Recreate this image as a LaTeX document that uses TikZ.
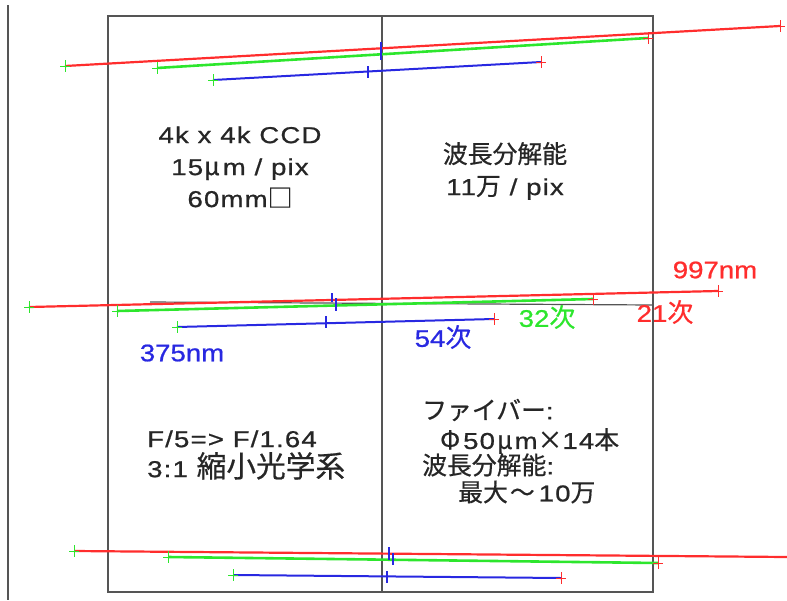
\documentclass[tikz,border=0pt]{standalone}
\usepackage{fontspec}
\setmainfont{Liberation Sans}[FakeStretch=1.2,LetterSpace=5,FakeBold=0.8]
\newfontfamily\lab{Liberation Sans}[FakeStretch=1.15,FakeBold=0.8]
\newfontfamily\cjk{Noto Sans CJK JP}[Scale=1.08,FakeBold=0.6]
\newcommand\cj[1]{{\cjk #1}}
\definecolor{lred}{RGB}{255,45,45}
\definecolor{lgreen}{RGB}{45,230,45}
\definecolor{lblue}{RGB}{40,40,225}
\definecolor{frame}{RGB}{85,85,85}
\tikzset{
  frameline/.style={draw=frame,line width=1.4pt},
  redline/.style={draw=lred,line width=2.2pt},
  greenline/.style={draw=lgreen,line width=2.6pt},
  blueline/.style={draw=lblue,line width=2pt},
  pics/plusmark/.style={code={\draw[line width=1pt,#1] (-5,0)--(5,0) (0,-6)--(0,6);}},
  pics/vmark/.style={code={\draw[line width=1.2pt,#1] (0,-6)--(0,6);}},
  blacktext/.style={font=\fontsize{23}{32}\selectfont,text=black!85,inner sep=0pt},
  lbl/.style={font=\lab\fontsize{24}{28}\selectfont,inner sep=0pt}
}
\begin{document}
\begin{tikzpicture}[x=1pt,y=-1pt]
\useasboundingbox (0,0) rectangle (787,600);
% frame
\coordinate (lt) at (8,5); \coordinate (lb) at (8,600);
\draw[frameline] (lt) -- (lb);
\coordinate (f1) at (108,16); \coordinate (f2) at (653,592);
\draw[frameline] (f1) rectangle (f2);
\coordinate (mt) at (382,16); \coordinate (mb) at (382,592);
\draw[frameline] (mt) -- (mb);
\coordinate (hg1) at (150,302); \coordinate (hg2) at (653,305);
\draw[frame,line width=1.2pt] (hg1) -- (hg2);
% top group
\coordinate (r1s) at (65,66); \coordinate (r1e) at (780,26);
\coordinate (g1s) at (157,68); \coordinate (g1e) at (648,38);
\coordinate (b1s) at (213,80); \coordinate (b1e) at (541,62);
\draw[redline] (r1s) -- (r1e);
\draw[greenline] (g1s) -- (g1e);
\draw[blueline] (b1s) -- (b1e);
\pic at (r1s) {plusmark=lgreen}; \pic at (r1e) {plusmark=lred};
\pic at (g1s) {plusmark=lgreen}; \pic at (g1e) {plusmark=lred};
\pic at (b1s) {plusmark=lgreen}; \pic at (b1e) {plusmark=lred};
\pic at (368,72) {vmark=lblue};
\coordinate (bt1a) at (381,42); \coordinate (bt1b) at (381,60);
\draw[lblue,line width=1.2pt] (bt1a) -- (bt1b);
% middle group
\coordinate (r2s) at (29,307); \coordinate (r2e) at (718,291);
\coordinate (g2s) at (117,311); \coordinate (g2e) at (593,299);
\coordinate (b2s) at (177,327); \coordinate (b2e) at (494,319);
\draw[redline] (r2s) -- (r2e);
\draw[greenline] (g2s) -- (g2e);
\draw[blueline] (b2s) -- (b2e);
\pic at (r2s) {plusmark=lgreen}; \pic at (r2e) {plusmark=lred};
\pic at (g2s) {plusmark=lgreen}; \pic at (g2e) {plusmark=lred};
\pic at (b2s) {plusmark=lgreen}; \pic at (b2e) {plusmark=lred};
\pic at (326,322) {vmark=lblue};
\coordinate (bt2a) at (332,293); \coordinate (bt2b) at (332,302);
\coordinate (bt2c) at (336,298); \coordinate (bt2d) at (336,311);
\draw[lblue,line width=1.2pt] (bt2a) -- (bt2b) (bt2c) -- (bt2d);
% bottom group
\coordinate (r3s) at (74,551); \coordinate (r3e) at (787,557);
\coordinate (g3s) at (168,557); \coordinate (g3e) at (658,563);
\coordinate (b3s) at (233,575); \coordinate (b3e) at (561,578);
\draw[redline] (r3s) -- (r3e);
\draw[greenline] (g3s) -- (g3e);
\draw[blueline] (b3s) -- (b3e);
\pic at (r3s) {plusmark=lgreen};
\pic at (g3s) {plusmark=lgreen}; \pic at (g3e) {plusmark=lred};
\pic at (b3s) {plusmark=lgreen}; \pic at (b3e) {plusmark=lred};
\pic at (387,577) {vmark=lblue};
\coordinate (bt3a) at (389,547); \coordinate (bt3b) at (389,560);
\coordinate (bt3c) at (393,553); \coordinate (bt3d) at (393,565);
\draw[lblue,line width=1.2pt] (bt3a) -- (bt3b) (bt3c) -- (bt3d);
% labels
\node[lbl,text=lred] (l997) at (715,270) {997nm};
\node[lbl,text=lred] (l21) at (665,312) {21\cj{次}};
\node[lbl,text=lgreen] (l32) at (547,317) {32\cj{次}};
\node[lbl,text=lblue] (l54) at (443,337) {54\cj{次}};
\node[lbl,text=lblue] (l375) at (182,353) {375nm};
% texts
\node[blacktext,align=center] (ccd) at (240,167) {4k x 4k CCD\\15\kern1pt\cj{μ}\kern3pt m / pix\\60mm\cj{□}};
\node[blacktext,align=center] (res) at (505,171) {\cj{波長分解能}\\11\cj{万} / pix};
\node[blacktext,align=left,anchor=west,font=\fontsize{23}{30}\selectfont] (fno) at (147,455) {F/5=> F/1.64\\3:1 {\fontsize{27.5}{30}\selectfont\cjk 縮小光学系}};
\node[blacktext,anchor=west] (fib1) at (422,410) {\cj{ファイバー}:};
\node[blacktext,anchor=west] (fib2) at (440,441) {\cj{Φ}\kern3pt 50\kern2pt\cj{μ}\kern2pt m\cj{×}14\cj{本}};
\node[blacktext,anchor=west] (fib3) at (422,465) {\cj{波長分解能}:};
\node[blacktext,anchor=west] (fib4) at (458,492) {\cj{最大}\kern2pt\cj{～}\kern4pt 10\cj{万}};
\end{tikzpicture}
\end{document}
